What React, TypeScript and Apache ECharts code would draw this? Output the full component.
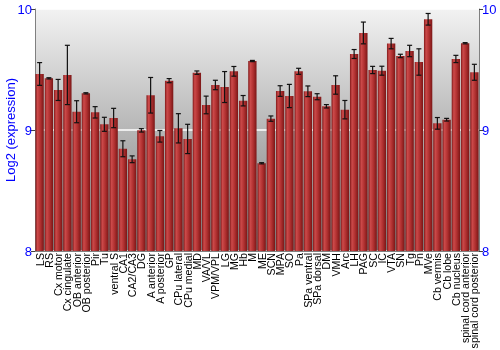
import React, { useEffect, useRef } from "react";
import * as echarts from "echarts";

const categories = [
  "LS", "RS", "Cx motor", "Cx cingulate", "OB anterior", "OB posterior", "Pir", "Tu",
  "ventral S", "CA1", "CA2/CA3", "DG", "A anterior", "A posterior", "GP", "CPu lateral",
  "CPu medial", "MD", "VA/VL", "VPM/VPL", "LG", "MG", "Hb", "M", "ME", "SCN", "MPA", "SO",
  "Pa", "SPa ventral", "SPa dorsal", "DM", "VMH", "Arc", "LH", "PAG", "SC", "IC", "VTA",
  "SN", "Tg", "Pn", "MVe", "Cb vermis", "Cb lobe", "Cb nucleus", "spinal cord anterior",
  "spinal cord posterior",
];

const values = [
  9.463, 9.427, 9.331, 9.455, 9.151, 9.303, 9.146, 9.047,
  9.099, 8.845, 8.758, 8.997, 9.287, 8.948, 9.408, 9.014,
  8.926, 9.474, 9.207, 9.372, 9.355, 9.485, 9.242, 9.57, 8.725, 9.094, 9.322, 9.281,
  9.485, 9.32, 9.275, 9.196, 9.372, 9.168, 9.628, 9.802, 9.496, 9.49, 9.714,
  9.612, 9.653, 9.562, 9.915, 9.055, 9.085, 9.587, 9.717,
  9.477,
];

const errors = [
  0.094, 0.005, 0.087, 0.245, 0.091, 0.005, 0.047, 0.058,
  0.08, 0.066, 0.028, 0.014, 0.147, 0.048, 0.017, 0.121,
  0.121, 0.014, 0.073, 0.039, 0.128, 0.04, 0.043, 0.005, 0.005, 0.022, 0.044, 0.096,
  0.025, 0.044, 0.025, 0.014, 0.076, 0.076, 0.037, 0.09, 0.03, 0.037, 0.043,
  0.014, 0.047, 0.109, 0.048, 0.048, 0.011, 0.03, 0.005,
  0.066,
];

const yTicks = [8, 9, 10];
const yTitle = "Log2 (expression)";

export default function App() {
  const ref = useRef<HTMLDivElement>(null);
  useEffect(() => {
    if (!ref.current) return;
    const chart = echarts.init(ref.current, null, { renderer: "svg" });
    const errData = values.map((v, i) => [i, v - errors[i], v + errors[i]]);
    const yAxisBase = {
      type: "value",
      min: yTicks[0],
      max: yTicks[yTicks.length - 1],
      interval: 1,
      axisLine: { show: true, lineStyle: { color: "#808080", width: 1 } },
      axisTick: { show: true, length: 4, lineStyle: { color: "#404040" } },
      axisLabel: { color: "#0000ff", fontSize: 13, fontFamily: "Liberation Sans", margin: 3 },
      splitLine: { show: false },
    };
    chart.setOption({
      animation: false,
      graphic: [
        {
          type: "text",
          x: 10,
          y: 130,
          rotation: Math.PI / 2,
          style: {
            text: yTitle,
            fill: "#0000ff",
            fontSize: 13,
            fontFamily: "Liberation Sans",
            align: "center",
            verticalAlign: "middle",
          },
        },
      ],
      grid: {
        left: 35,
        right: 21,
        top: 9,
        bottom: 99,
        show: true,
        borderWidth: 0,
        outerBoundsMode: "none",
        containLabel: false,
        backgroundColor: new echarts.graphic.LinearGradient(0, 0, 0, 1, [
          { offset: 0, color: "#f2f2f2" },
          { offset: 1, color: "#7a7a7a" },
        ]),
      },
      xAxis: {
        type: "category",
        data: categories,
        axisLine: { show: true, lineStyle: { color: "#808080" } },
        axisTick: { show: false },
        axisLabel: {
          interval: 0,
          rotate: 90,
          color: "#000",
          fontSize: 10.6,
          fontFamily: "Liberation Sans",
          margin: 2,
        },
      },
      yAxis: [
        {
          ...yAxisBase,
          position: "left",
          splitLine: { show: true, lineStyle: { color: "#ffffff", width: 1.5 } },
        },
        { ...yAxisBase, position: "right" },
      ],
      series: [
        {
          type: "bar",
          data: values,
          barCategoryGap: "10%",
          itemStyle: {
            color: new echarts.graphic.LinearGradient(0, 0, 1, 0, [
              { offset: 0, color: "#801818" },
              { offset: 0.25, color: "#cc4a4a" },
              { offset: 0.6, color: "#b03030" },
              { offset: 1, color: "#7a1616" },
            ]),
          },
        },
        {
          type: "custom",
          data: errData,
          z: 10,
          renderItem: (params: any, api: any) => {
            const x = api.value(0);
            const lo = api.coord([x, api.value(1)]);
            const hi = api.coord([x, api.value(2)]);
            const hw = 2.5;
            const style = { stroke: "#111", lineWidth: 1.2 };
            return {
              type: "group",
              children: [
                { type: "line", shape: { x1: lo[0], y1: lo[1], x2: hi[0], y2: hi[1] }, style },
                { type: "line", shape: { x1: lo[0] - hw, y1: lo[1], x2: lo[0] + hw, y2: lo[1] }, style },
                { type: "line", shape: { x1: hi[0] - hw, y1: hi[1], x2: hi[0] + hw, y2: hi[1] }, style },
              ],
            };
          },
        },
      ],
    });
    return () => chart.dispose();
  }, []);
  return (
    <div
      ref={ref}
      style={{ position: "fixed", left: 0, top: 0, width: 500, height: 350 }}
    />
  );
}
